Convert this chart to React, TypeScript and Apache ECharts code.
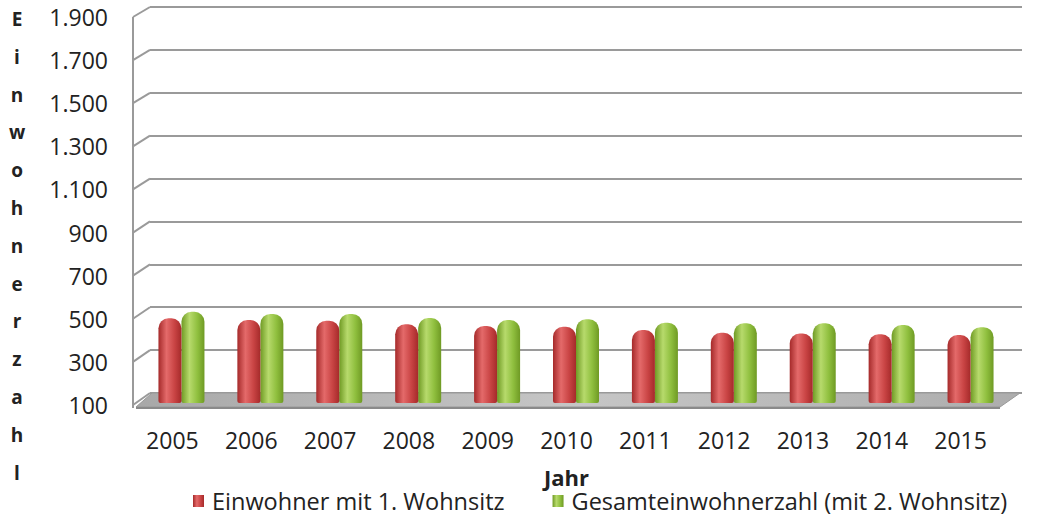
import React, { useEffect, useRef } from "react";
import * as echarts from "echarts";

const years = ["2005", "2006", "2007", "2008", "2009", "2010", "2011", "2012", "2013", "2014", "2015"];
const hauptwohnsitz = [490, 482, 479, 462, 455, 451, 436, 423, 420, 416, 413];
const gesamt = [520, 510, 510, 491, 482, 485, 470, 467, 467, 459, 449];
const yTicks = [100, 300, 500, 700, 900, 1100, 1300, 1500, 1700, 1900];
const seriesNames = ["Einwohner mit 1. Wohnsitz", "Gesamteinwohnerzahl (mit 2. Wohnsitz)"];
const yTitle = "Einwohnerzahl";
const xTitle = "Jahr";

const FONT = "'Open Sans', sans-serif";

const fmt = (v: number) =>
  v >= 1000 ? `${Math.floor(v / 1000)}.${String(v % 1000).padStart(3, "0")}` : String(v);

const barGradient = (dark: string, light: string, mid: string) =>
  new echarts.graphic.LinearGradient(0, 0, 1, 0, [
    { offset: 0, color: dark },
    { offset: 0.35, color: light },
    { offset: 0.7, color: mid },
    { offset: 1, color: dark },
  ]);

export default function App() {
  const ref = useRef<HTMLDivElement>(null);
  useEffect(() => {
    if (!ref.current) return;
    const chart = echarts.init(ref.current, null, { renderer: "svg" });
    const yMin = yTicks[0];
    const yMax = yTicks[yTicks.length - 1];
    const yInt = yTicks[1] - yTicks[0];
    chart.setOption({
      animation: false,
      backgroundColor: "#ffffff",
      textStyle: { fontFamily: FONT },
      grid: [
        { left: 150, right: 16, top: 7, bottom: 127 },
        { left: 133, right: 38, top: 17, bottom: 115 },
        { left: 142, right: 28, top: 12, bottom: 117 },
      ],
      xAxis: [
        { gridIndex: 0, type: "category", data: years, show: false },
        {
          gridIndex: 1,
          type: "category",
          data: years,
          axisLine: { show: false },
          axisTick: { show: false },
          axisLabel: { fontSize: 23, color: "#222", margin: 23, fontFamily: FONT },
          name: xTitle,
          nameLocation: "middle",
          nameGap: 61,
          nameTextStyle: { fontSize: 22, fontWeight: "bold", color: "#222", fontFamily: FONT },
        },
        { gridIndex: 2, type: "category", data: years, show: false },
      ],
      yAxis: [
        {
          gridIndex: 0,
          type: "value",
          min: yMin,
          max: yMax,
          interval: yInt,
          axisLabel: { show: false },
          axisLine: { show: false },
          axisTick: { show: false },
          splitLine: { lineStyle: { color: "#9a9a9a", width: 2 } },
        },
        {
          gridIndex: 1,
          type: "value",
          min: yMin,
          max: yMax,
          interval: yInt,
          axisLabel: { formatter: fmt, fontSize: 23, color: "#222", margin: 25, fontFamily: FONT },
          axisLine: { show: false },
          axisTick: { show: false },
          splitLine: { show: false },
        },
        { gridIndex: 2, type: "value", min: yMin, max: yMax, interval: yInt, show: false, splitLine: { show: false } },
      ],
      legend: {
        top: 489,
        left: 190,
        padding: [0, 0, 0, 3],
        itemWidth: 11,
        itemHeight: 12,
        itemGap: 48,
        icon: "rect",
        textStyle: { fontSize: 23.5, color: "#222", fontFamily: FONT, padding: [0, 0, 0, 3] },
        data: seriesNames,
      },
      series: [
        {
          name: seriesNames[0],
          type: "bar",
          xAxisIndex: 2,
          yAxisIndex: 2,
          data: hauptwohnsitz,
          barWidth: 23,
          barGap: "0%",
          itemStyle: {
            color: barGradient("#a52a2a", "#e46a6a", "#c94444"),
            borderRadius: [10, 10, 2, 2],
          },
          z: 5,
        },
        {
          name: seriesNames[1],
          type: "bar",
          xAxisIndex: 2,
          yAxisIndex: 2,
          data: gesamt,
          barWidth: 23,
          barGap: "0%",
          itemStyle: {
            color: barGradient("#6f9a24", "#b7da6c", "#8fbf3e"),
            borderRadius: [10, 10, 2, 2],
          },
          z: 4,
        },
      ],
    });

    // 3D-style walls and floor, derived from the axes
    const yFront = (v: number) => chart.convertToPixel({ yAxisIndex: 1 }, v) as number;
    const yBack = (v: number) => chart.convertToPixel({ yAxisIndex: 0 }, v) as number;
    const frontX = 133;
    const backX = 150;
    const elements: any[] = [];
    const fb = yFront(yMin) + 2;
    const bb = yBack(yMin);
    elements.push({
      type: "polygon",
      z: 1,
      shape: { points: [[frontX + 3, fb], [1000, fb], [1020, bb], [backX + 2, bb]] },
      style: {
        fill: new echarts.graphic.LinearGradient(0, 0, 1, 0, [
          { offset: 0, color: "#a8a8a8" },
          { offset: 0.5, color: "#c6c6c6" },
          { offset: 1, color: "#adadad" },
        ]),
        stroke: "#999999",
        lineWidth: 1,
      },
    });
    elements.push({
      type: "line",
      z: 1,
      shape: { x1: frontX + 3, y1: fb + 1, x2: 1000, y2: fb + 1 },
      style: { stroke: "#8a8a8a", lineWidth: 2 },
    });
    elements.push({
      type: "line",
      z: 1,
      shape: { x1: frontX, y1: yFront(yMax), x2: frontX, y2: fb + 1 },
      style: { stroke: "#9a9a9a", lineWidth: 2 },
    });
    yTicks.forEach((v) => {
      elements.push({
        type: "line",
        z: 1,
        shape: { x1: frontX, y1: yFront(v), x2: backX, y2: yBack(v) },
        style: { stroke: "#9a9a9a", lineWidth: 2 },
      });
    });
    elements.push({
      type: "text",
      x: 17,
      y: 0,
      style: {
        text: yTitle.split("").join("\n"),
        fontSize: 19,
        fontWeight: "bold",
        fontFamily: FONT,
        lineHeight: 37.8,
        fill: "#222",
        align: "center",
        verticalAlign: "top",
      },
    });
    chart.setOption({ graphic: { elements } });
    return () => chart.dispose();
  }, []);
  return (
    <div
      ref={ref}
      style={{ position: "fixed", left: 0, top: 0, width: 1038, height: 520 }}
    />
  );
}
